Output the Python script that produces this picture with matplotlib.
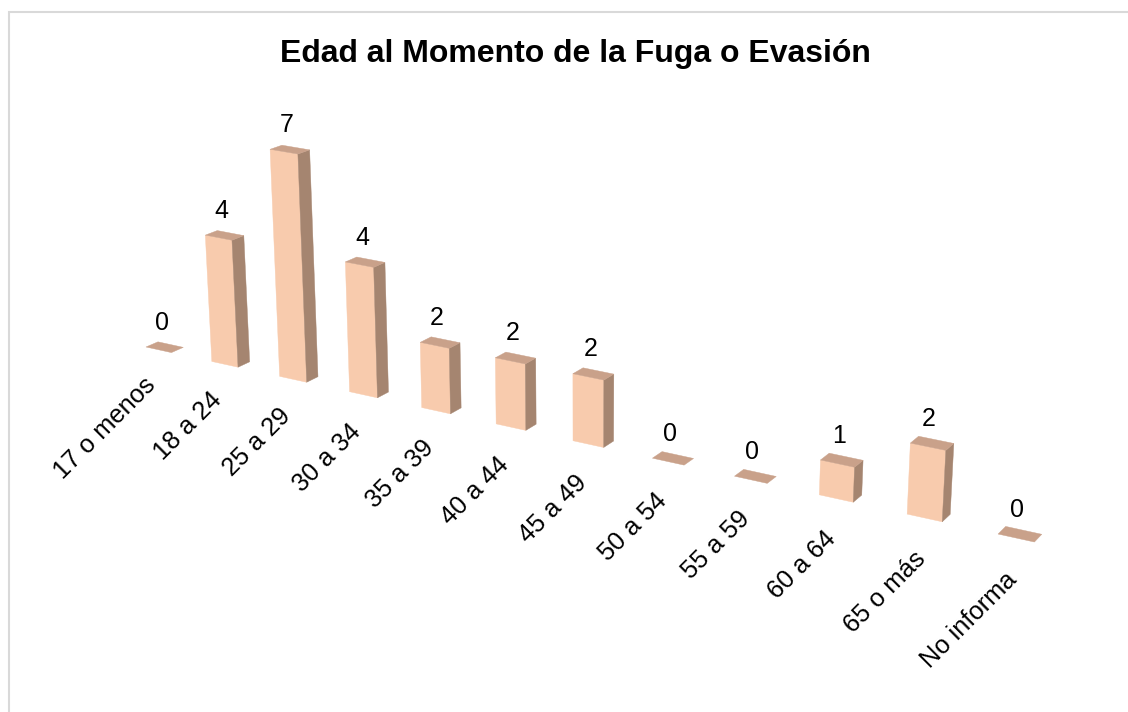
import matplotlib
matplotlib.use('Agg')
import matplotlib.pyplot as plt

categories = ['17 o menos', '18 a 24', '25 a 29', '30 a 34', '35 a 39', '40 a 44',
              '45 a 49', '50 a 54', '55 a 59', '60 a 64', '65 o más', 'No informa']
values = [0, 4, 7, 4, 2, 2, 2, 0, 0, 1, 2, 0]

plt.rcParams['font.family'] = ['Liberation Sans', 'DejaVu Sans']

BAR_W = 0.39
FRONT = '#F8CBAD'
SIDE = '#A58570'
TOP = '#C9A18A'


# camara del grafico 3D: categoria u, profundidad d, valor h -> pixel
def project(u, d, h):
    w = 1 - 0.0148 * u + 0.0066 * d - 0.0042 * h
    x = (146 + 62.69 * u + 13.0 * d - 2.46 * h) / w
    y = (347 + 9.1 * u - 2.9 * d - 32.1 * h) / w
    return x, y


def face(ax, corners, color):
    xs, ys = zip(*[project(*c) for c in corners])
    ax.fill(xs, ys, color=color, lw=0.3, zorder=2)


fig = plt.figure(figsize=(11.28, 7.12), dpi=100)
ax = fig.add_axes([0, 0, 1, 1])
ax.set_xlim(0, 1128)
ax.set_ylim(712, 0)
ax.axis('off')

# el borde solo se ve arriba y a la izquierda
ax.plot([9, 9, 1128], [712, 12, 12], color='#D9D9D9', lw=1.5, solid_joinstyle='miter', zorder=1)

ax.text(575, 61.7, 'Edad al Momento de la Fuga o Evasión', ha='center', va='baseline',
        fontsize=23, fontweight='bold', color='black')

for i, (name, v) in enumerate(zip(categories, values)):
    l, r = i, i + BAR_W
    if v > 0:
        face(ax, [(l, 0, 0), (r, 0, 0), (r, 0, v), (l, 0, v)], FRONT)
        face(ax, [(r, 0, 0), (r, 1, 0), (r, 1, v), (r, 0, v)], SIDE)
    face(ax, [(l, 0, v), (r, 0, v), (r, 1, v), (l, 1, v)], TOP)

    tx, ty = project(i + BAR_W / 2, 0.5, v)
    ax.text(tx - 3, ty - 24.5, str(v), ha='center', va='center', fontsize=18, color='black')

    lx, ly = project(1.015 * i - 0.07, 0, -0.88)
    ax.text(lx, ly, name, ha='right', va='top', rotation=45, rotation_mode='anchor',
            fontsize=18.3, color='black')

fig.savefig('out.png', dpi=100)
